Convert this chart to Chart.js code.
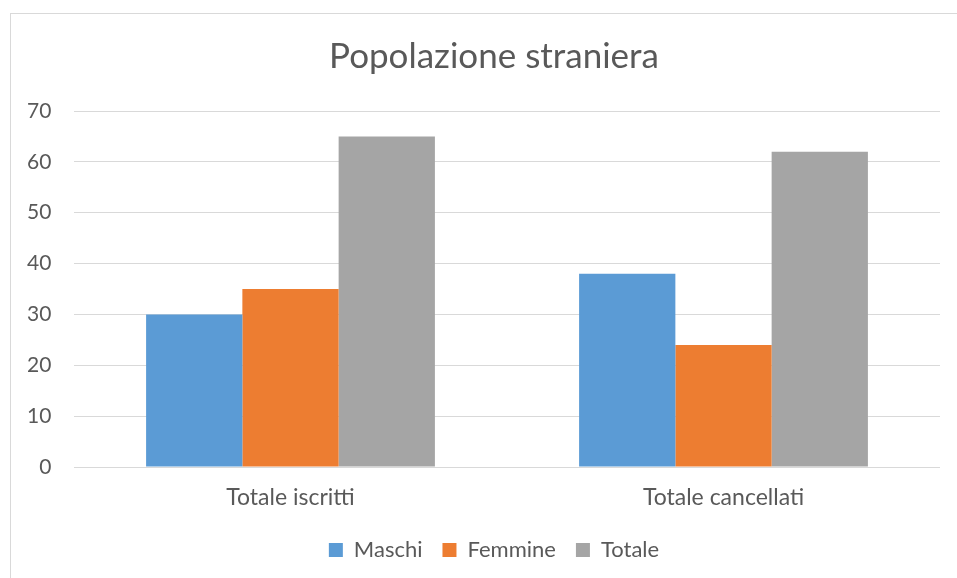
<!DOCTYPE html>
<html>
<head>
<meta charset="utf-8">
<script src="https://cdn.jsdelivr.net/npm/chart.js@4/dist/chart.umd.min.js"></script>
<style>
  html, body { margin: 0; padding: 0; background: #fff; overflow: hidden; }
  #frame { position: absolute; left: 10px; top: 13px; width: 1000px; height: 1000px; border: 1px solid #d9d9d9; }
  #wrap { position: absolute; left: 0; top: 0; width: 957px; height: 578px; }
</style>
</head>
<body>
<div id="frame"></div>
<div id="wrap"><canvas id="chart"></canvas></div>
<script>
// dati
const categories = ['Totale iscritti', 'Totale cancellati'];
const maschi     = [30, 38];
const femmine    = [35, 24];
const totale     = [65, 62];

const FONT = 'Lato, "Open Sans", sans-serif';
const GREY = '#595959';

new Chart(document.getElementById('chart'), {
  type: 'bar',
  data: {
    labels: categories,
    datasets: [
      { label: 'Maschi',  data: maschi,  backgroundColor: '#5b9bd5' },
      { label: 'Femmine', data: femmine, backgroundColor: '#ed7d31' },
      { label: 'Totale',  data: totale,  backgroundColor: '#a5a5a5' }
    ]
  },
  options: {
    responsive: true,
    maintainAspectRatio: false,
    animation: false,
    categoryPercentage: 0.667,
    barPercentage: 1,
    layout: { padding: { left: 48, right: 17, top: 0, bottom: 7 } },
    plugins: {
      title: {
        display: true,
        text: 'Popolazione straniera',
        color: GREY,
        font: { family: FONT, size: 35, weight: 'normal' },
        padding: { top: 36, bottom: 33 }
      },
      legend: {
        position: 'bottom',
        labels: {
          color: GREY,
          font: { family: FONT, size: 22 },
          boxWidth: 14,
          boxHeight: 14,
          padding: 20
        }
      },
      tooltip: { enabled: false }
    },
    scales: {
      x: {
        grid: { display: false },
        border: { display: false },
        ticks: { color: GREY, font: { family: FONT, size: 23 }, padding: 9 },
        afterFit: s => { s.height = 52; }
      },
      y: {
        min: 0, max: 70,
        grid: { color: '#d9d9d9', drawTicks: false },
        border: { display: false },
        // labels mirrored and pulled back left so they are not clipped by the narrow axis box
        ticks: { stepSize: 10, color: GREY, font: { family: FONT, size: 21 },
                 mirror: true, crossAlign: 'far', padding: -47 },
        afterFit: s => { s.width = 26; }
      }
    }
  }
});
</script>
</body>
</html>
